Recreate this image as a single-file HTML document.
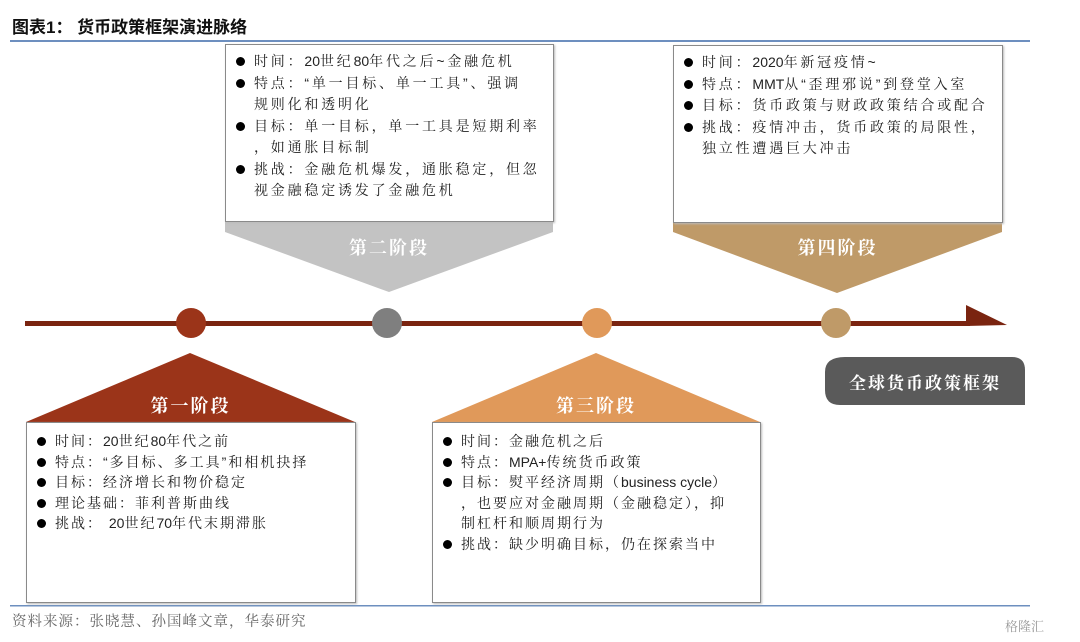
<!DOCTYPE html>
<html><head><meta charset="utf-8"><style>
body{margin:0;width:1080px;height:642px;background:#fff;position:relative;overflow:hidden;font-family:"Liberation Sans","Noto Serif CJK SC",serif;}
.t{position:absolute;white-space:nowrap;}
.box{position:absolute;border:1.5px solid #8a8a8a;background:#fff;box-shadow:1px 1px 2px #bbb;box-sizing:border-box;font-size:14px;color:#222;letter-spacing:2.8px;white-space:nowrap;}
.box ul{margin:0;padding:0;list-style:none;}
.box li{position:relative;padding-left:24px;line-height:21.5px;}
.box li:before{content:"";position:absolute;left:6px;top:6px;width:9px;height:9px;border-radius:50%;background:#000;}
.b1{letter-spacing:2px;}
.b1 li{line-height:20.6px;}
.l{letter-spacing:0;}
.lbl{position:absolute;color:#fff;font-family:"Noto Serif CJK SC",serif;font-weight:bold;font-size:18px;text-align:center;letter-spacing:2px;}
</style></head><body>
<div class="t" style="left:12px;top:13px;font-size:17px;font-weight:bold;font-family:'Liberation Sans','Noto Sans CJK SC',sans-serif;color:#111">图表1：&nbsp;货币政策框架演进脉络</div>
<div style="position:absolute;left:10px;top:40px;width:1020px;height:2px;background:#6d8fbf"></div>

<svg width="1080" height="642" style="position:absolute;left:0;top:0">
<polygon points="225,222 553,222 553,232 389,292 225,232" fill="#c3c3c3"/>
<polygon points="673,222 1002,222 1002,232 837,293 673,232" fill="#bf9a68"/>
<polygon points="26,422 190,353 355,422" fill="#9b3419"/>
<polygon points="432,422 596,353 760,422" fill="#e0995a"/>
<rect x="25" y="321" width="945" height="5" fill="#7a2410"/>
<polygon points="966,305 966,326 1007,325" fill="#7a2410"/>
<circle cx="191" cy="323" r="15" fill="#9b3419"/>
<circle cx="387" cy="323" r="15" fill="#7f7f7f"/>
<circle cx="597" cy="323" r="15" fill="#e0995a"/>
<circle cx="836" cy="323" r="15" fill="#bf9a68"/>
<path d="M845,357 H1012 Q1025,357 1025,370 V405 H840 Q825,405 825,390 V372 Q825,357 845,357 Z" fill="#5a5a5a"/>
<rect x="10" y="605" width="1020" height="1.5" fill="#6d8fbf"/>
</svg>

<div class="lbl" style="left:225px;top:234px;width:328px;">第二阶段</div>
<div class="lbl" style="left:673px;top:234px;width:329px;">第四阶段</div>
<div class="lbl" style="left:26px;top:392px;width:329px;">第一阶段</div>
<div class="lbl" style="left:432px;top:392px;width:328px;">第三阶段</div>
<div class="lbl" style="left:825px;top:369px;width:200px;font-size:17px;">全球货币政策框架</div>

<div class="box" style="left:225px;top:44px;width:329px;height:178px;padding:6px 4px 0 4px;">
<ul><li>时间：<span class="l">20</span>世纪<span class="l">80</span>年代之后~金融危机</li>
<li>特点：“单一目标、单一工具”、强调<br>规则化和透明化</li>
<li>目标：单一目标，单一工具是短期利率<br>，如通胀目标制</li>
<li>挑战：金融危机爆发，通胀稳定，但忽<br>视金融稳定诱发了金融危机</li></ul></div>

<div class="box" style="left:673px;top:45px;width:330px;height:178px;padding:6px 4px 0 4px;">
<ul><li>时间：<span class="l">2020</span>年新冠疫情~</li>
<li>特点：<span class="l">MMT</span>从“歪理邪说”到登堂入室</li>
<li>目标：货币政策与财政政策结合或配合</li>
<li>挑战：疫情冲击，货币政策的局限性，<br>独立性遭遇巨大冲击</li></ul></div>

<div class="box b1" style="left:26px;top:422px;width:330px;height:181px;padding:8px 4px 0 4px;">
<ul><li>时间：<span class="l">20</span>世纪<span class="l">80</span>年代之前</li>
<li>特点：“多目标、多工具”和相机抉择</li>
<li>目标：经济增长和物价稳定</li>
<li>理论基础：菲利普斯曲线</li>
<li>挑战： <span class="l">20</span>世纪<span class="l">70</span>年代末期滞胀</li></ul></div>

<div class="box b1" style="left:432px;top:422px;width:329px;height:181px;padding:8px 4px 0 4px;">
<ul><li>时间：金融危机之后</li>
<li>特点：<span class="l">MPA+</span>传统货币政策</li>
<li>目标：熨平经济周期（<span class="l">business cycle</span>）<br>，也要应对金融周期（金融稳定），抑<br>制杠杆和顺周期行为</li>
<li>挑战：缺少明确目标，仍在探索当中</li></ul></div>

<div class="t" style="left:12px;top:610px;font-size:14.5px;color:#666;font-family:'Noto Serif CJK SC',serif;letter-spacing:1px;">资料来源：张晓慧、孙国峰文章，华泰研究</div>
<div class="t" style="left:1005px;top:616px;font-size:13px;color:#999;">格隆汇</div>
</body></html>
